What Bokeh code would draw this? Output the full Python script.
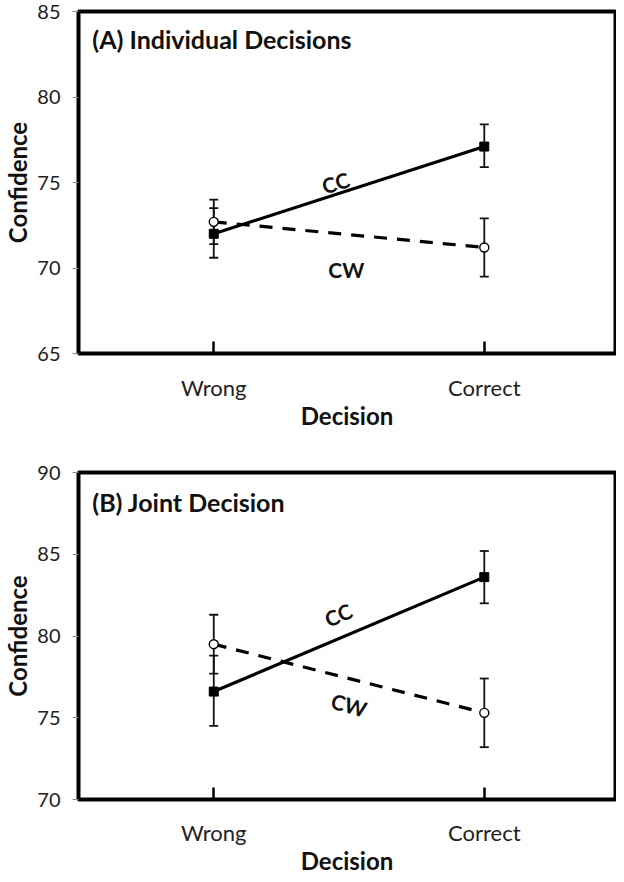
from bokeh.plotting import figure
from bokeh.models import Range1d, FixedTicker, Whisker, TeeHead, ColumnDataSource, Label
from bokeh.layouts import column
from bokeh.embed import file_html
from bokeh.resources import INLINE

categories = ["Wrong", "Correct"]
xpos = [0, 1]

# Panel A: Individual decisions
a_cc = [72.0, 77.1]
a_cc_lo = [70.6, 75.9]
a_cc_hi = [73.5, 78.4]
a_cw = [72.7, 71.2]
a_cw_lo = [71.4, 69.5]
a_cw_hi = [74.0, 72.9]

# Panel B: Joint decision
b_cc = [76.6, 83.6]
b_cc_lo = [74.5, 82.0]
b_cc_hi = [78.8, 85.2]
b_cw = [79.5, 75.3]
b_cw_lo = [77.7, 73.2]
b_cw_hi = [81.3, 77.4]

FONT = "Lato"


def make_panel(title, yr, cc, cc_lo, cc_hi, cw, cw_lo, cw_hi, height, top, bottom,
               tick_standoff, cc_lab, cw_lab, title_pos):
    p = figure(width=616, height=height, output_backend="svg", toolbar_location=None,
               x_range=Range1d(-0.5, 1.485), y_range=Range1d(*yr),
               min_border_left=72, min_border_right=1, min_border_top=top,
               min_border_bottom=bottom)
    p.grid.visible = False
    p.outline_line_color = "black"
    p.outline_line_width = 4
    p.outline_line_alpha = 1
    p.background_fill_color = "white"
    p.border_fill_color = "white"

    p.xaxis.ticker = FixedTicker(ticks=xpos)
    p.xaxis.major_label_overrides = {x: c for x, c in zip(xpos, categories)}
    p.xaxis.axis_line_color = None
    p.xaxis.major_tick_in = 12
    p.xaxis.major_tick_out = 0
    p.xaxis.major_tick_line_width = 2.5
    p.xaxis.major_tick_line_color = "black"
    p.xaxis.minor_tick_line_color = None
    p.xaxis.major_label_text_font = FONT
    p.xaxis.major_label_text_font_size = "22px"
    p.xaxis.major_label_text_color = "#222222"
    p.xaxis.major_label_standoff = tick_standoff
    p.xaxis.axis_label = "Decision"
    p.xaxis.axis_label_text_font = FONT
    p.xaxis.axis_label_text_font_style = "bold"
    p.xaxis.axis_label_text_font_size = "24px"
    p.xaxis.axis_label_text_color = "#111111"
    p.xaxis.axis_label_standoff = -3

    p.yaxis.ticker = FixedTicker(ticks=list(range(yr[0], yr[1] + 1, 5)))
    p.yaxis.axis_line_color = None
    p.yaxis.major_tick_in = 0
    p.yaxis.major_tick_out = 6
    p.yaxis.major_tick_line_color = "#888888"
    p.yaxis.minor_tick_line_color = None
    p.yaxis.major_label_text_font = FONT
    p.yaxis.major_label_text_font_size = "20px"
    p.yaxis.major_label_text_color = "#222222"
    p.yaxis.major_label_standoff = 12
    p.yaxis.axis_label = "Confidence"
    p.yaxis.axis_label_text_font = FONT
    p.yaxis.axis_label_text_font_style = "bold"
    p.yaxis.axis_label_text_font_size = "24px"
    p.yaxis.axis_label_text_color = "#111111"
    p.yaxis.axis_label_standoff = 2

    # lines
    p.line(xpos, cc, line_color="black", line_width=3.2)
    p.line(xpos, cw, line_color="black", line_width=3.2, line_dash="13 10")

    # error bars
    for lo, hi in ((cc_lo, cc_hi), (cw_lo, cw_hi)):
        src = ColumnDataSource(dict(x=xpos, lower=lo, upper=hi))
        w = Whisker(source=src, base="x", lower="lower", upper="upper",
                    line_width=1.8, line_color="#111111",
                    upper_head=TeeHead(size=9, line_width=1.8, line_color="#111111"),
                    lower_head=TeeHead(size=9, line_width=1.8, line_color="#111111"))
        p.add_layout(w)

    p.scatter(xpos, cc, marker="square", size=9, fill_color="black", line_color="black")
    p.scatter(xpos, cw, marker="circle", size=9, fill_color="white", line_color="black",
              line_width=1.4)

    p.add_layout(Label(x=title_pos[0], y=title_pos[1], text=title, text_font=FONT,
                       text_font_style="bold", text_font_size="25px",
                       text_color="#111111", text_baseline="middle", text_align="left"))
    for (lx, ly, ang), txt in ((cc_lab, "CC"), (cw_lab, "CW")):
        p.add_layout(Label(x=lx, y=ly, text=txt, angle=ang, angle_units="deg",
                           text_font=FONT, text_font_style="bold", text_font_size="21px",
                           text_color="#111111", text_baseline="middle",
                           text_align="center"))
    return p


pa = make_panel("(A) Individual  Decisions", (65, 85), a_cc, a_cc_lo, a_cc_hi,
                a_cw, a_cw_lo, a_cw_hi, height=432, top=11, bottom=73, tick_standoff=20,
                cc_lab=(0.45, 75.0, 18), cw_lab=(0.49, 69.9, 0), title_pos=(-0.449, 83.39))
pb = make_panel("(B) Joint Decision", (70, 90), b_cc, b_cc_lo, b_cc_hi,
                b_cw, b_cw_lo, b_cw_hi, height=445, top=40, bottom=72, tick_standoff=19,
                cc_lab=(0.46, 81.3, 24), cw_lab=(0.5, 75.8, -16), title_pos=(-0.449, 88.2))

layout = column(pa, pb, spacing=0)
open("out.html", "w").write(file_html(layout, INLINE))
